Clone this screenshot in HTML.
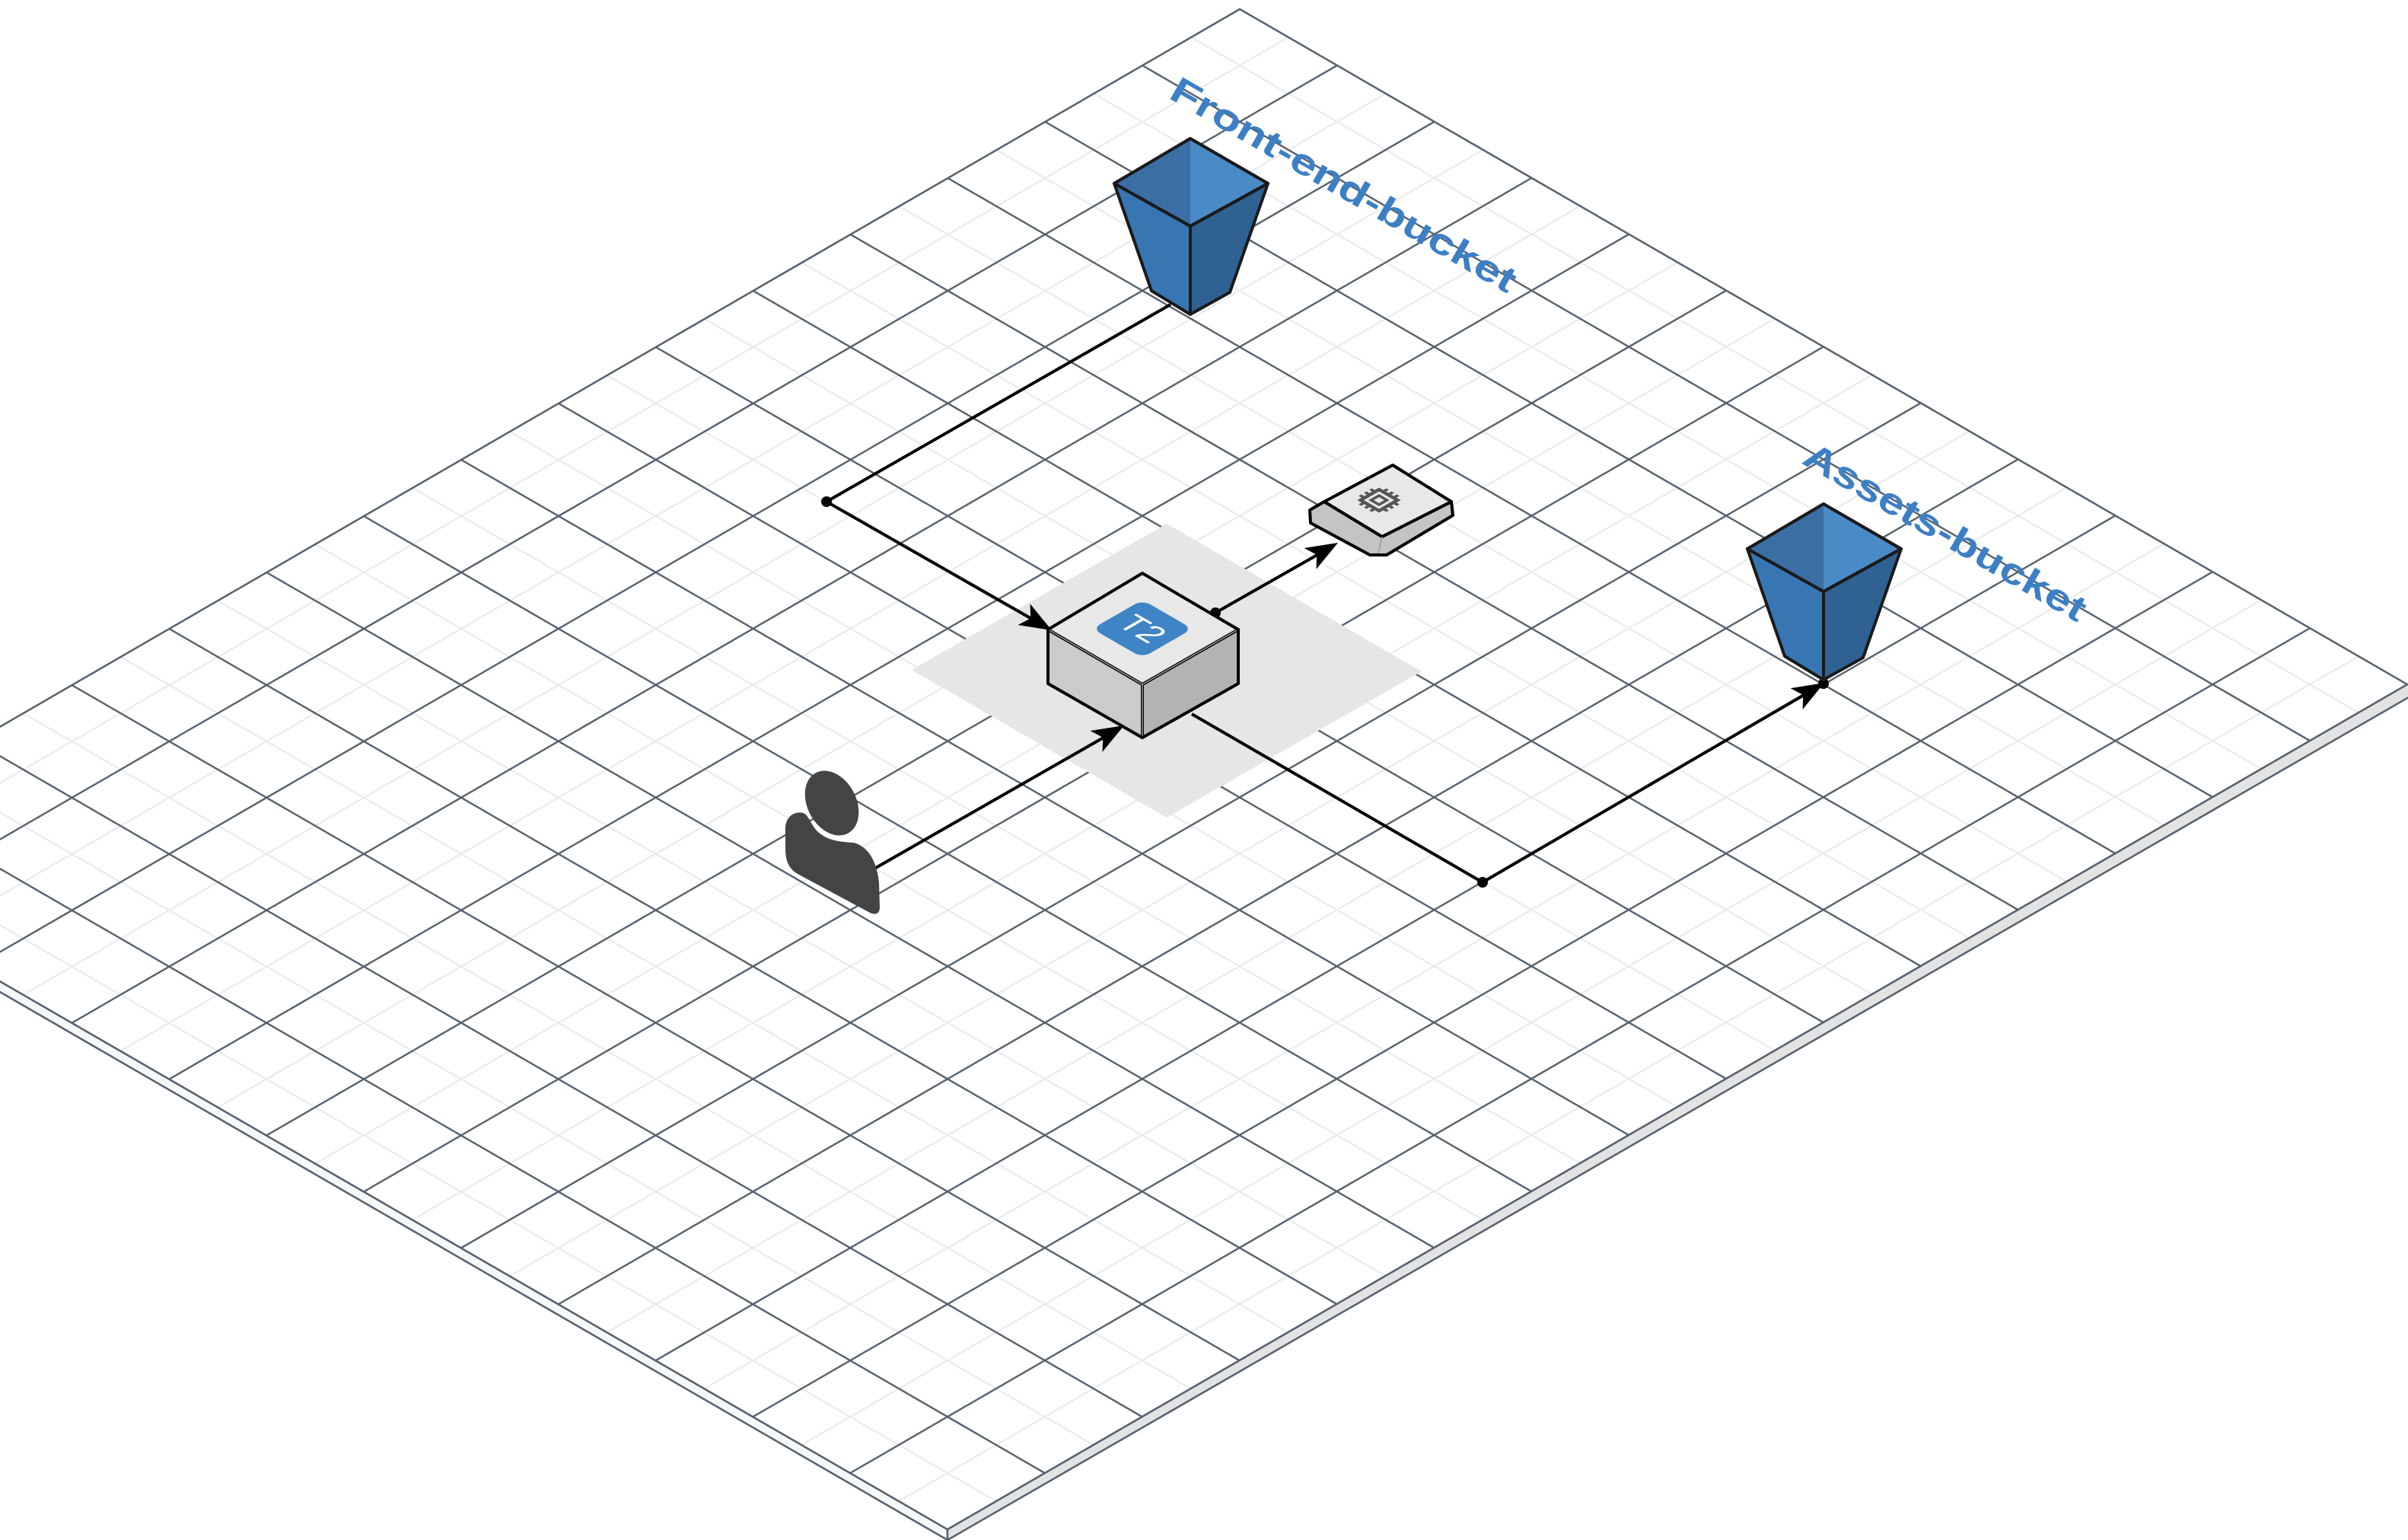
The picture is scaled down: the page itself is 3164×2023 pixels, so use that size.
<!DOCTYPE html>
<html><head><meta charset="utf-8"><style>
html,body{margin:0;padding:0;background:#fff;}
svg{display:block;}
</style></head><body>
<svg width="3164" height="2023" viewBox="0 0 3164 2023" xmlns="http://www.w3.org/2000/svg">
<!-- platform sides -->
<polygon points="-289,1122 1245,2009 1245,2023 -289,1136" fill="#f7f7f7" stroke="#56616d" stroke-width="2.5"/>
<polygon points="1245,2009 3163,899 3170,899 3170,913 1245,2023" fill="#e3e3e3" stroke="#56616d" stroke-width="2.5"/>
<!-- platform top -->
<g transform="matrix(127.83,73.92,-127.87,74.0,1629,12)">
<rect x="0" y="0" width="12" height="15" fill="#fff"/>
<g stroke="#ebebeb" stroke-width="2.2" fill="none">
<path vector-effect="non-scaling-stroke" d="M0.5,0V15M1.5,0V15M2.5,0V15M3.5,0V15M4.5,0V15M5.5,0V15M6.5,0V15M7.5,0V15M8.5,0V15M9.5,0V15M10.5,0V15M11.5,0V15"/>
<path vector-effect="non-scaling-stroke" d="M0,0.5H12M0,1.5H12M0,2.5H12M0,3.5H12M0,4.5H12M0,5.5H12M0,6.5H12M0,7.5H12M0,8.5H12M0,9.5H12M0,10.5H12M0,11.5H12M0,12.5H12M0,13.5H12M0,14.5H12"/>
</g>
<g stroke="#56616d" fill="none">
<path vector-effect="non-scaling-stroke" stroke-width="2.4" d="M1,0V15M2,0V15M3,0V15M4,0V15M5,0V15M6,0V15M7,0V15M8,0V15M9,0V15M10,0V15M11,0V15"/>
<path vector-effect="non-scaling-stroke" stroke-width="2.4" d="M0,1H12M0,2H12M0,3H12M0,4H12M0,5H12M0,6H12M0,7H12M0,8H12M0,9H12M0,10H12M0,11H12M0,12H12M0,13H12M0,14H12"/>
<rect vector-effect="non-scaling-stroke" stroke-width="2.5" x="0" y="0" width="12" height="15"/>
</g>
</g>

<!-- shadow under cube -->
<polygon points="1533,688 1868,882 1533,1074 1198,880" fill="#e6e6e6"/>

<!-- connectors -->
<g stroke="#000" stroke-width="4" fill="none">
<polyline points="1538,400 1086,659 1368,820"/>
<line x1="1149" y1="1141" x2="1462" y2="962"/>
<line x1="1597" y1="805" x2="1743" y2="722"/>
<polyline points="1566,938 1948,1159 2382,906"/>
</g>
<g fill="#000">
<circle cx="1086" cy="659" r="7"/>
<circle cx="1597" cy="805" r="7"/>
<circle cx="1948" cy="1159" r="7"/>
<circle cx="2396" cy="898" r="7"/>
<path d="M0,0 L-42,-16 L-32,0 L-42,16 Z" transform="translate(1382,828) rotate(29.8)"/>
<path d="M0,0 L-42,-16 L-32,0 L-42,16 Z" transform="translate(1477,953) rotate(-29.8)"/>
<path d="M0,0 L-42,-16 L-32,0 L-42,16 Z" transform="translate(1758,713) rotate(-29.8)"/>
<path d="M0,0 L-42,-16 L-32,0 L-42,16 Z" transform="translate(2397,897) rotate(-30)"/>
</g>

<!-- T2 cube -->
<g stroke="#000" stroke-width="4" stroke-linejoin="round">
<polygon points="1377,827 1501,899 1501,969 1377,898" fill="#cbcbcd"/>
<polygon points="1627,827 1501,899 1501,969 1627,898" fill="#b3b3b5"/>
<polygon points="1501,753 1627,827 1501,899 1377,827" fill="#e8e8e8"/>
</g>
<g stroke="#999" stroke-width="1.5" fill="none"><polyline points="1379,828 1501,899 1625,828"/><line x1="1501" y1="899" x2="1501" y2="967"/></g>
<g transform="matrix(0.866,0.5,-0.866,0.5,1501,826)">
<rect x="-38" y="-38" width="76" height="76" rx="12" fill="#3f84c5"/>
<text x="0" y="15" fill="#fff" font-family="Liberation Sans, sans-serif" font-size="44" text-anchor="middle">T2</text>
</g>

<!-- chip -->
<g stroke="#000" stroke-width="4" stroke-linejoin="round">
<polygon points="1740,659 1816,705 1907,659 1909,677 1822,729 1800,729 1722,687 1721,670" fill="#c4c4c6"/>
<polygon points="1830,611 1907,659 1816,705 1740,659" fill="#e8e8e8"/>
</g>
<line x1="1816" y1="705" x2="1811" y2="727" stroke="#999" stroke-width="1.5"/>
<g transform="translate(1812,657)" fill="none" stroke="#555">
<g transform="matrix(0.866,0.5,-0.866,0.5,0,0)">
<rect x="-14" y="-14" width="28" height="28" stroke-width="5"/>
<rect x="-6" y="-6" width="12" height="12" stroke-width="4"/>
<path d="M-8,-14V-21M0,-14V-21M8,-14V-21M-8,14V21M0,14V21M8,14V21M-14,-8H-21M-14,0H-21M-14,8H-21M14,-8H21M14,0H21M14,8H21" stroke-width="4"/>
</g>
</g>

<!-- person -->
<g fill="#444">
<ellipse cx="1093" cy="1055" rx="32" ry="45" transform="rotate(-28 1093 1055)"/>
<path d="M1032,1093 C1030,1072 1045,1065 1055,1068 C1062,1070 1064,1080 1072,1090 C1084,1103 1100,1106 1122,1107 C1140,1112 1152,1130 1155,1160 L1156,1193 C1155,1201 1150,1202 1143,1199 L1048,1148 C1036,1141 1032,1130 1032,1115 Z"/>
</g>

<!-- buckets -->
<g id="bk" stroke="#1a1a1a" stroke-width="4" stroke-linejoin="round">
<polygon points="1464,241 1564,297 1564,413 1513,382" fill="#3776b3"/>
<polygon points="1666,241 1564,297 1564,413 1616,384" fill="#2f6293"/>
<polygon points="1564,182 1666,241 1564,297 1464,241" fill="#4a8ac6"/>
<polygon points="1564,182 1564,297 1464,241" fill="#3a6ea5" stroke="none"/>
<polygon points="1564,182 1666,241 1564,297 1464,241" fill="none"/>
</g>
<use href="#bk" transform="translate(832,480)"/>

<!-- labels -->
<text transform="translate(1534,128) rotate(30)" font-family="Liberation Sans, sans-serif" font-weight="bold" font-size="48" fill="#3d7fc4" textLength="516" lengthAdjust="spacingAndGlyphs">Front-end-bucket</text>
<text transform="translate(2366,608) rotate(30)" font-family="Liberation Sans, sans-serif" font-weight="bold" font-size="48" fill="#3d7fc4" textLength="420" lengthAdjust="spacingAndGlyphs">Assets-bucket</text>
</svg>
</body></html>
